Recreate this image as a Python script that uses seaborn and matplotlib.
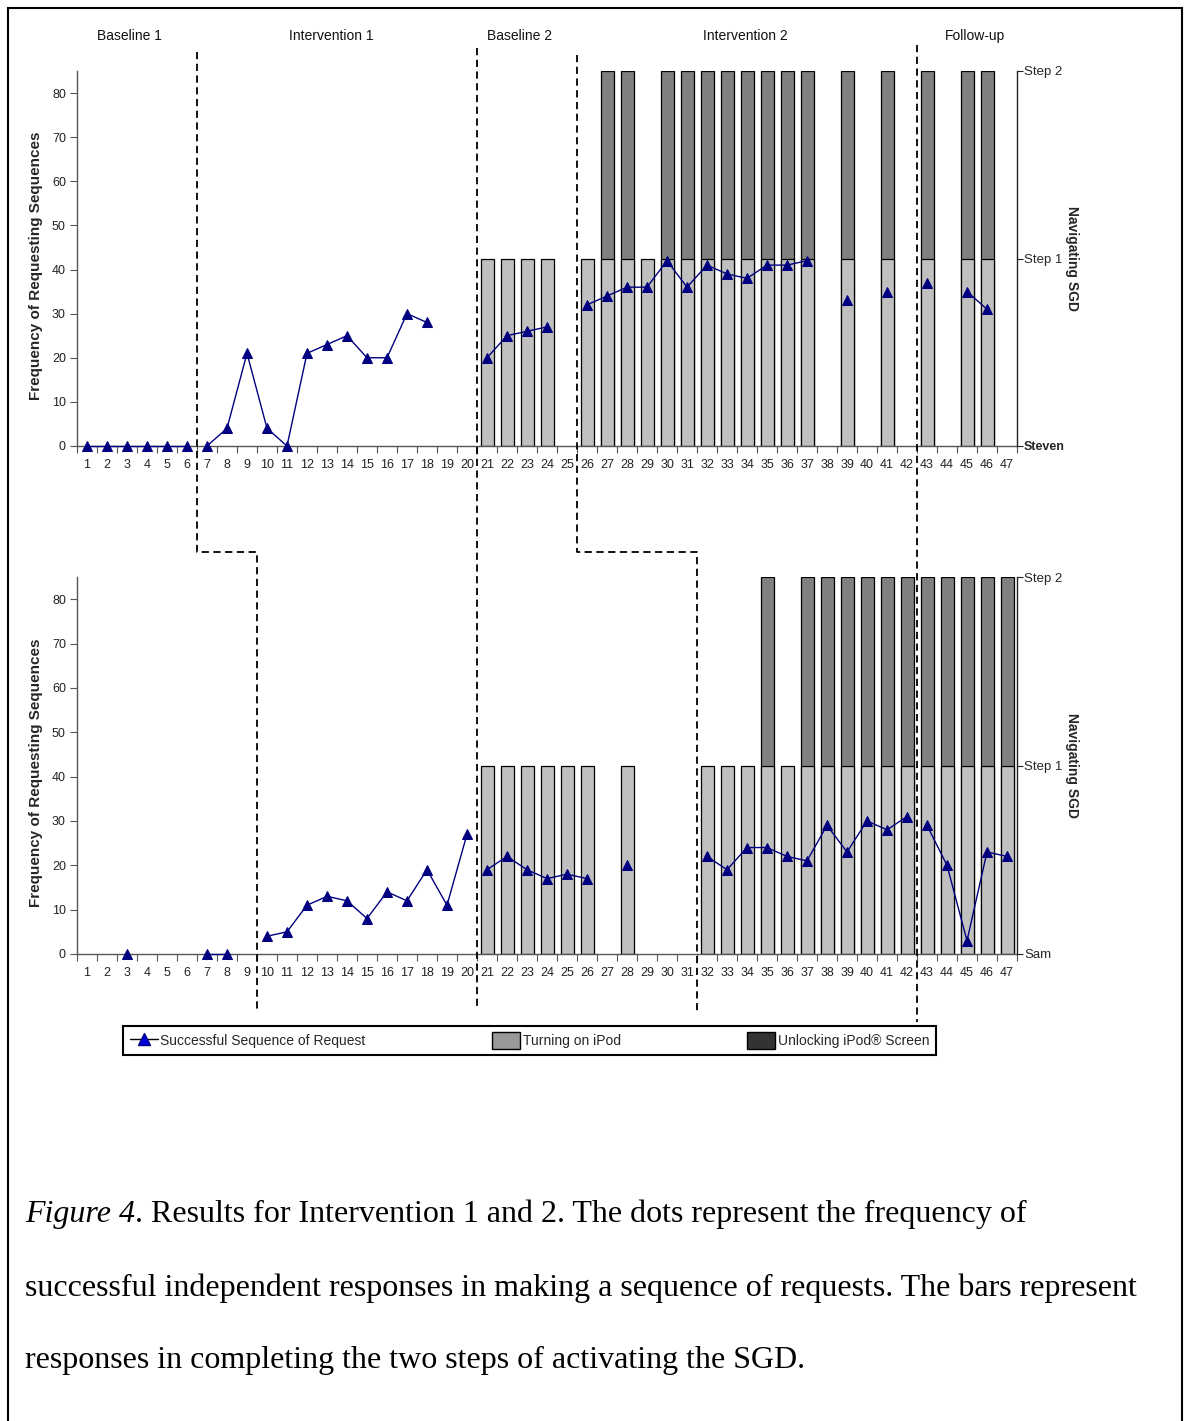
import numpy as np
import pandas as pd
import matplotlib
matplotlib.use('Agg')
import matplotlib.pyplot as plt
import seaborn as sns
from matplotlib.lines import Line2D
from matplotlib.patches import Patch, Rectangle
import matplotlib.transforms as mtransforms

# ---------------- data ----------------
N = None
sessions = list(range(1, 48))
phase_names = ['Baseline 1', 'Intervention 1', 'Baseline 2', 'Intervention 2', 'Follow-up']

steven_requests = [0, 0, 0, 0, 0, 0,
                   0, 4, 21, 4, 0, 21, 23, 25, 20, 20, 30, 28, N, N,
                   20, 25, 26, 27, N,
                   32, 34, 36, 36, 42, 36, 41, 39, 38, 41, 41, 42, N, 33, N, 35, N,
                   37, N, 35, 31, N]
# 0 = no bar, 1 = Turning on iPod (Step 1), 2 = Unlocking iPod Screen (Step 2)
steven_steps = [0] * 20 + [1, 1, 1, 1, 0,
                           1, 2, 2, 1, 2, 2, 2, 2, 2, 2, 2, 2, 0, 2, 0, 2, 0,
                           2, 0, 2, 2, 0]
steven_phase_changes = [6.5, 20.5, 25.5, 42.5]

sam_requests = [N, N, 0, N, N, N, 0, 0, N,
                4, 5, 11, 13, 12, 8, 14, 12, 19, 11, 27,
                19, 22, 19, 17, 18, 17, N, 20, N, N, N,
                22, 19, 24, 24, 22, 21, 29, 23, 30, 28, 31,
                29, 20, 3, 23, 22]
sam_steps = [0] * 20 + [1, 1, 1, 1, 1, 1, 0, 1, 0, 0, 0,
                        1, 1, 1, 2, 1, 2, 2, 2, 2, 2, 2,
                        2, 2, 2, 2, 2]
sam_phase_changes = [9.5, 20.5, 31.5, 42.5]

step_labels = ['Step 1', 'Step 2']
legend_labels = ['Successful Sequence of Request', 'Turning on iPod',
                 'Unlocking iPod\u00ae Screen']

STEP_H = 42.5
# ---------------- style ----------------
W, H = 1187, 1421
sns.set_theme(style='white')
plt.rcParams['font.family'] = ['Liberation Sans', 'DejaVu Sans']
NAVY = '#000080'
LIGHT = '#C0C0C0'
DARK = '#808080'

fig = plt.figure(figsize=(W / 100, H / 100), dpi=100)


def px_box(l, t, r, b):
    return [l / W, 1 - b / H, (r - l) / W, (b - t) / H]


ax_top = fig.add_axes(px_box(77, 71, 1017, 446))
ax_bot = fig.add_axes(px_box(77, 577, 1017, 954))


def segments(values, changes):
    seg, out, prev = 0, [], None
    for s, v in zip(sessions, values):
        if v is None:
            prev = None
            out.append(None)
            continue
        if prev is None or any(prev < c < s for c in changes):
            seg += 1
        out.append(seg)
        prev = s
    return out


def draw_panel(ax, requests, steps, changes, name, bold_name):
    df_bar = pd.DataFrame({'session': sessions, 'step': steps})
    d2 = df_bar[df_bar.step == 2]
    d1 = df_bar[df_bar.step >= 1]
    sns.barplot(x=d2.session, y=[2 * STEP_H] * len(d2), native_scale=True,
                width=0.65, color=DARK, saturation=1, edgecolor='black',
                linewidth=0.9, errorbar=None, ax=ax)
    sns.barplot(x=d1.session, y=[STEP_H] * len(d1), native_scale=True,
                width=0.65, color=LIGHT, saturation=1, edgecolor='black',
                linewidth=0.9, errorbar=None, ax=ax)
    df = pd.DataFrame({'session': sessions, 'requests': requests,
                       'segment': segments(requests, changes)}).dropna()
    df['requests'] = df['requests'].astype(float)
    sns.lineplot(data=df, x='session', y='requests', units='segment',
                 estimator=None, color=NAVY, lw=1.0, marker='^', markersize=7,
                 markeredgecolor=NAVY, markerfacecolor=NAVY, ax=ax, zorder=5,
                 clip_on=False)
    ax.set_xlim(0.5, 47.5)
    ax.set_ylim(0, 2 * STEP_H)
    ax.set_xticks(sessions)
    ax.set_xticklabels([str(s) for s in sessions], fontsize=9)
    ax.set_xticks(np.arange(0.5, 48, 1), minor=True)
    ax.tick_params(axis='x', which='major', length=0, pad=9, colors='#222222')
    ax.tick_params(axis='x', which='minor', length=5, width=0.8, direction='out',
                   bottom=True, color='#555555')
    ax.set_yticks(range(0, 81, 10))
    ax.tick_params(axis='y', length=5, width=0.8, direction='out', left=True,
                   labelsize=9, colors='#222222', pad=3)
    ax.tick_params(axis='y', color='#555555')
    for sp in ['top', 'right']:
        ax.spines[sp].set_visible(False)
    for sp in ['left', 'bottom']:
        ax.spines[sp].set_color('#555555')
        ax.spines[sp].set_linewidth(1.0)
    ax.set_xlabel('')
    ax.set_ylabel('Frequency of Requesting Sequences', fontsize=11,
                  fontweight='bold')
    ax.yaxis.set_label_coords(-0.036, 0.48)
    ax.grid(False)

    ax2 = ax.twinx()
    ax2.set_ylim(0, 2 * STEP_H)
    ax2.set_yticks([0, STEP_H, 2 * STEP_H])
    ax2.set_yticklabels([name] + step_labels, fontsize=9.5)
    ax2.tick_params(axis='y', length=4, width=0.8, direction='out', right=True,
                    color='#222222', pad=1)
    if bold_name:
        ax2.get_yticklabels()[0].set_fontweight('bold')
        ax2.get_yticklabels()[0].set_fontsize(9)
    for sp in ['top', 'left', 'bottom']:
        ax2.spines[sp].set_visible(False)
    ax2.spines['right'].set_color('#222222')
    ax2.spines['right'].set_linewidth(1.0)
    ax2.set_ylabel('Navigating SGD', rotation=270, fontsize=10, fontweight='bold',
                   va='center')
    ax2.yaxis.set_label_coords(1.058, 0.5)
    ax2.grid(False)


draw_panel(ax_top, steven_requests, steven_steps, steven_phase_changes, 'Steven', True)
draw_panel(ax_bot, sam_requests, sam_steps, sam_phase_changes, 'Sam', False)

# phase labels
phase_bounds = [0.5] + steven_phase_changes + [47.5]
label_tr = mtransforms.blended_transform_factory(ax_top.transData, fig.transFigure)
label_offsets = [-0.4, -0.3, -0.35, -0.1, 0.4]
for i, nm in enumerate(phase_names):
    xc = (phase_bounds[i] + phase_bounds[i + 1]) / 2 + label_offsets[i]
    fig.text(xc, 1 - 36 / H, nm, transform=label_tr, ha='center', va='center',
             fontsize=10, color='#111111')

# phase change lines (multiple-baseline staircase)
line_tr = mtransforms.blended_transform_factory(ax_top.transData, fig.transFigure)
tops_px = [52, 48, 55, 45]
bots_px = [1012, 1008, 1012, 1022]
mid_px = 552
for (s, m), tp, bp in zip(zip(steven_phase_changes, sam_phase_changes), tops_px, bots_px):
    xs = [s, s, m, m]
    ys = [1 - tp / H, 1 - mid_px / H, 1 - mid_px / H, 1 - bp / H]
    fig.add_artist(Line2D(xs, ys, transform=line_tr, color='black', lw=1.3,
                          linestyle=(0, (4, 2.5))))

# legend
handles = [Line2D([0], [0], color='black', lw=1.0, marker='^', markersize=9,
                  markerfacecolor='#0000DD', markeredgecolor=NAVY),
           Patch(facecolor='#999999', edgecolor='black', linewidth=1.0),
           Patch(facecolor='#333333', edgecolor='black', linewidth=1.0)]
leg = fig.legend(handles, legend_labels, loc='center',
                 bbox_to_anchor=(123 / W, 1 - 1059 / H, (936 - 123) / W, 37 / H),
                 mode='expand', ncol=3, frameon=True, fancybox=False,
                 edgecolor='black', framealpha=1, borderaxespad=0,
                 handlelength=2.0, handleheight=1.4, handletextpad=0.2,
                 fontsize=10, borderpad=0.5)
leg.get_frame().set_linewidth(1.5)

# outer border
fig.add_artist(Rectangle((8 / W, -0.05), (1182 - 8) / W, 1 - 8 / H + 0.05,
                         transform=fig.transFigure, fill=False, lw=1.5,
                         edgecolor='black'))

# caption
cap_font = ['Liberation Serif', 'DejaVu Serif']
cap_lines = [('Figure 4', '. Results for Intervention 1 and 2. The dots represent the frequency of'),
             ('', 'successful independent responses in making a sequence of requests. The bars represent'),
             ('', 'responses in completing the two steps of activating the SGD.')]
baselines = [1222, 1296, 1368]
fig.canvas.draw()
renderer = fig.canvas.get_renderer()
for (it, rest), bl in zip(cap_lines, baselines):
    x0 = 25 / W
    y = 1 - bl / H
    if it:
        t = fig.text(x0, y, it, fontsize=23, style='italic', family=cap_font,
                     va='baseline', ha='left', color='black')
        bb = t.get_window_extent(renderer)
        x0 = bb.x1 / W
    fig.text(x0, y, rest, fontsize=23, family=cap_font, va='baseline',
             ha='left', color='black')

fig.savefig('out.png', dpi=100)
